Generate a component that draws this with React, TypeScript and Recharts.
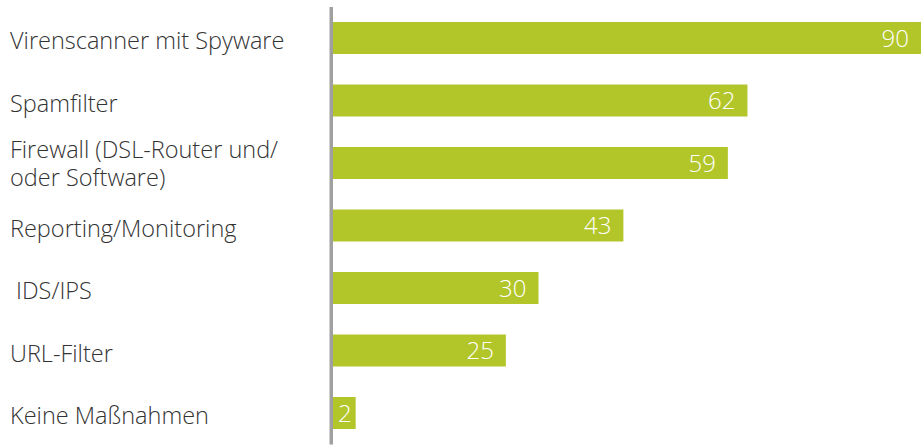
import { BarChart, Bar, XAxis, YAxis, LabelList } from "recharts";

const CATEGORIES = [
  "Virenscanner mit Spyware",
  "Spamfilter",
  "Firewall (DSL-Router und/\noder Software)",
  "Reporting/Monitoring",
  " IDS/IPS",
  "URL-Filter",
  "Keine Maßnahmen",
];
const VALUES = [90, 62, 59, 43, 30, 25, 2];

const BAR_COLOR = "#b2c62a";
const AXIS_COLOR = "#a0a0a0";
const TEXT_COLOR = "#333333";
const FONT = "'Open Sans', 'Noto Sans', sans-serif";

const WIDTH = 921;
const HEIGHT = 446;
const AXIS_WIDTH = 331.25;
const AXIS_STROKE = 3.5;
// bars in the original start a bit left of their zero point, so the domain dips below 0
const X_DOMAIN: [number, number] = [-1.74, 88.58];

const data = CATEGORIES.map((name, i) => ({ name, value: VALUES[i] }));

function CategoryTick(props: any) {
  const { y, payload } = props;
  const lines = String(payload.value).split("\n");
  const first = y + 11 - (lines.length - 1) * 16;
  return (
    <text
      x={10}
      fill={TEXT_COLOR}
      fontSize={23.5}
      fontWeight={300}
      fontFamily={FONT}
      style={{ whiteSpace: "pre" }}
    >
      {lines.map((l, i) => (
        <tspan key={i} x={10} y={first + i * 28}>
          {l}
        </tspan>
      ))}
    </text>
  );
}

function BarShape(props: any) {
  const { x, y, width, height, fill } = props;
  const left = AXIS_WIDTH + AXIS_STROKE / 2;
  const right = Math.min(x + width, WIDTH);
  return <rect x={left} y={y} width={Math.max(right - left, 0)} height={height} fill={fill} />;
}

function ValueLabel(props: any) {
  const { x, y, width, height, value } = props;
  const left = AXIS_WIDTH + AXIS_STROKE / 2;
  const end = Math.min(x + width, WIDTH);
  const small = end - left < 40;
  return (
    <text
      x={small ? left + 5 : end - 12}
      y={y + height / 2}
      dy="0.36em"
      textAnchor={small ? "start" : "end"}
      fill="#ffffff"
      fontSize={24}
      fontWeight={300}
      fontFamily={FONT}
    >
      {value}
    </text>
  );
}

export default function App() {
  return (
    <div style={{ position: "absolute", left: 0, top: 0, background: "#fff" }}>
      <BarChart
        width={WIDTH}
        height={HEIGHT}
        data={data}
        layout="vertical"
        margin={{ top: 7, right: 0, bottom: 1.5, left: 0 }}
      >
        <XAxis type="number" domain={X_DOMAIN} allowDataOverflow hide />
        <YAxis
          type="category"
          dataKey="name"
          width={AXIS_WIDTH}
          interval={0}
          tickLine={false}
          axisLine={{ stroke: AXIS_COLOR, strokeWidth: AXIS_STROKE }}
          tick={<CategoryTick />}
        />
        <Bar dataKey="value" fill={BAR_COLOR} barSize={32} shape={<BarShape />} isAnimationActive={false}>
          <LabelList dataKey="value" content={<ValueLabel />} />
        </Bar>
      </BarChart>
    </div>
  );
}
